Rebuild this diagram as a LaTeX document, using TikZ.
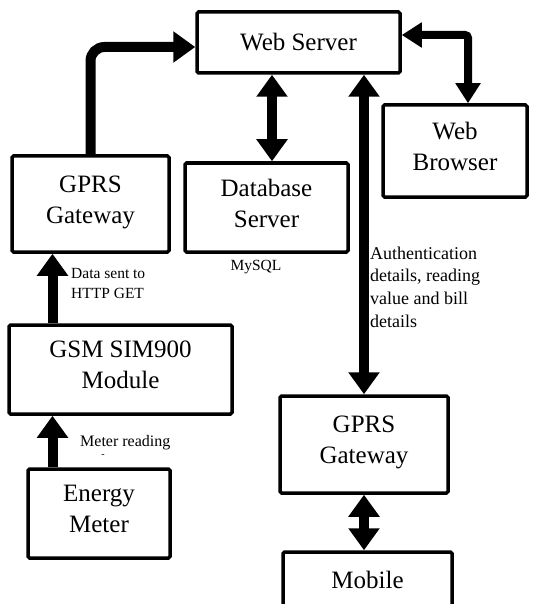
\documentclass[tikz,border=0pt]{standalone}
\usepackage{fontspec}
\setmainfont{Liberation Serif}
\usetikzlibrary{arrows.meta}
\tikzset{
  box/.style={draw, line width=3.5pt, inner sep=0pt, align=center, rounded corners=1.5pt,
    font=\fontsize{25}{31}\selectfont},
  raised/.style={text depth=9pt},
  conn/.style={line width=10pt},
  tipA/.style={-{Triangle[length=22pt,width=30pt]}},
  tipB/.style={{Triangle[length=22pt,width=30pt]}-{Triangle[length=22pt,width=30pt]}},
  lbl/.style={inner sep=0pt, align=left}
}
\begin{document}
\begin{tikzpicture}[x=1pt,y=-1pt]
\useasboundingbox (0,0) rectangle (534,604);
% boxes
\node[box, minimum width=203pt, minimum height=61pt] (ws) at (298.5,42.5) {Web Server};
\node[box, raised, minimum width=144pt, minimum height=92pt] (wb) at (455,151) {Web\\Browser};
\node[box, raised, minimum width=157pt, minimum height=96pt] (gl) at (90.5,204) {GPRS\\Gateway};
\node[box, raised, minimum width=163pt, minimum height=89pt] (db) at (266.5,207.5) {Database\\Server};
\node[box, raised, minimum width=223pt, minimum height=89pt] (gsm) at (120.5,369.5) {GSM SIM900\\Module};
\node[box, raised, minimum width=142pt, minimum height=89pt] (em) at (99,513.5) {Energy\\Meter};
\node[box, raised, minimum width=168pt, minimum height=97pt] (gr) at (364,444.5) {GPRS\\Gateway};
\node[box, minimum width=169pt, minimum height=56pt] (mob) at (367.5,580) {Mobile};
% helper coordinates
\coordinate (dbx) at (272,0);
\coordinate (lx) at (52.5,0);
% connectors
\draw[conn, tipA, rounded corners=14pt] (gl.north) |- ([yshift=-4.5pt]ws.west);
\draw[conn, tipB] (ws.south -| dbx) -- (db.north -| dbx);
\draw[conn, tipB] (ws.south -| gr.north) -- (gr.north);
\draw[line width=8pt, {Triangle[length=20pt,width=24pt]}-{Triangle[length=20pt,width=24pt]}, rounded corners=3pt]
  ([yshift=7.5pt]ws.east) -| ([xshift=13pt]wb.north);
\draw[conn, tipB] (gr.south) -- (gr.south |- mob.north);
\draw[conn, tipA] (gsm.north -| lx) -- (gl.south -| lx);
\draw[conn, tipA] (em.north -| lx) -- (gsm.south -| lx);
% labels
\node[lbl, anchor=west, font=\fontsize{15.5}{20}\selectfont] (l1) at (71,283) {Data sent to\\HTTP GET};
\node[lbl, font=\fontsize{15.5}{20}\selectfont] (l2) at (256,267) {MySQL};
\node[lbl, anchor=west, font=\fontsize{16}{20}\selectfont] (l3) at (80,443) {Meter reading};
\node[lbl, font=\fontsize{10}{12}\selectfont] (l4) at (103,456) {-};
\node[lbl, anchor=west, font=\fontsize{18}{22.7}\selectfont] (l5) at (370,287) {Authentication\\details, reading\\value and bill\\details};
\end{tikzpicture}
\end{document}
